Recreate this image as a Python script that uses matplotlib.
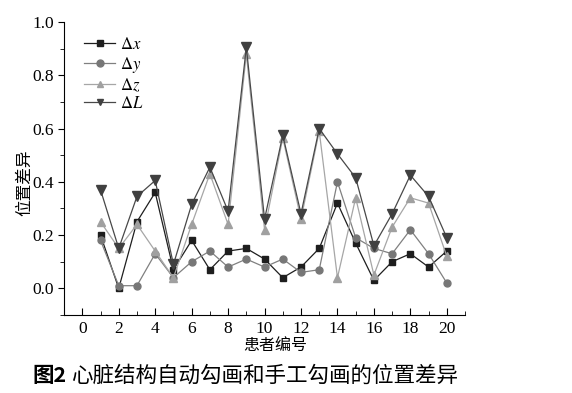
import matplotlib
matplotlib.use("Agg")
import matplotlib.pyplot as plt
from matplotlib.ticker import MultipleLocator

plt.rcParams['font.family'] = ['Liberation Serif', 'Noto Sans CJK SC', 'DejaVu Sans']
plt.rcParams['mathtext.fontset'] = 'stix'

patients = list(range(1, 21))
dx = [0.20, 0.00, 0.25, 0.36, 0.07, 0.18, 0.07, 0.14, 0.15, 0.11,
      0.04, 0.08, 0.15, 0.32, 0.17, 0.03, 0.10, 0.13, 0.08, 0.14]
dy = [0.18, 0.01, 0.01, 0.13, 0.04, 0.10, 0.14, 0.08, 0.11, 0.08,
      0.11, 0.06, 0.07, 0.40, 0.19, 0.15, 0.13, 0.22, 0.13, 0.02]
dz = [0.25, 0.15, 0.24, 0.14, 0.04, 0.24, 0.43, 0.24, 0.88, 0.22,
      0.565, 0.26, 0.59, 0.04, 0.34, 0.05, 0.23, 0.34, 0.32, 0.12]
dL = [0.37, 0.15, 0.345, 0.405, 0.09, 0.315, 0.455, 0.29, 0.905, 0.26,
      0.575, 0.28, 0.60, 0.505, 0.415, 0.16, 0.28, 0.425, 0.345, 0.19]
labels = [r'$\Delta x$', r'$\Delta y$', r'$\Delta z$', r'$\Delta L$']

fig = plt.figure(figsize=(5.72, 3.93), dpi=100)
ax = fig.add_axes([0.112, 0.1985, 0.701, 0.7455])

series = [
    (dx, 's', '#1e1e1e', '#1e1e1e', 4.5),
    (dy, 'o', '#808080', '#777777', 5),
    (dz, '^', '#a6a6a6', '#a0a0a0', 6),
    (dL, 'v', '#484848', '#404040', 6.5),
]
for (vals, m, lc, mc, ms), lab in zip(series, labels):
    ax.plot(patients, vals, color=lc, marker=m, markersize=ms, markerfacecolor=mc,
            markeredgecolor=mc, linewidth=0.9, label=lab)

ax.set_xlim(-1, 21)
ax.set_ylim(-0.1, 1.0)
ax.xaxis.set_major_locator(MultipleLocator(2))
ax.xaxis.set_minor_locator(MultipleLocator(1))
ax.yaxis.set_major_locator(MultipleLocator(0.2))
ax.yaxis.set_minor_locator(MultipleLocator(0.1))
ax.set_yticks([0.0, 0.2, 0.4, 0.6, 0.8, 1.0])
ax.set_yticklabels(['0.0', '0.2', '0.4', '0.6', '0.8', '1.0'])
ax.spines['top'].set_visible(False)
ax.spines['right'].set_visible(False)
ax.tick_params(axis='x', which='both', direction='in', labelsize=12.5, pad=4)
ax.tick_params(axis='x', which='major', length=5)
ax.tick_params(axis='x', which='minor', length=3)
ax.tick_params(axis='y', which='both', direction='out', labelsize=12.5)
ax.tick_params(axis='y', which='major', length=4)
ax.tick_params(axis='y', which='minor', length=3)

ax.set_xlabel('患者编号', fontsize=11.5, family=['Noto Sans CJK SC'])
ax.xaxis.set_label_coords(0.526, -0.075)
ax.set_ylabel('位置差异', fontsize=12, family=['Noto Sans CJK SC'])
ax.yaxis.set_label_coords(-0.077, 0.45)

leg = ax.legend(loc='upper left', bbox_to_anchor=(0.02, 0.99), frameon=False,
                fontsize=12, handlelength=1.9, handletextpad=0.3, labelspacing=0.12,
                borderaxespad=0.3)
for h in leg.legend_handles:
    h.set_markersize(5)

fig.text(0.056, 0.028, '图2', fontsize=15.5, fontweight='bold', family=['Noto Sans CJK SC'])
fig.text(0.124, 0.028, '心脏结构自动勾画和手工勾画的位置差异', fontsize=15.5,
         family=['Noto Sans CJK SC'])

fig.savefig('out.png', dpi=100)
